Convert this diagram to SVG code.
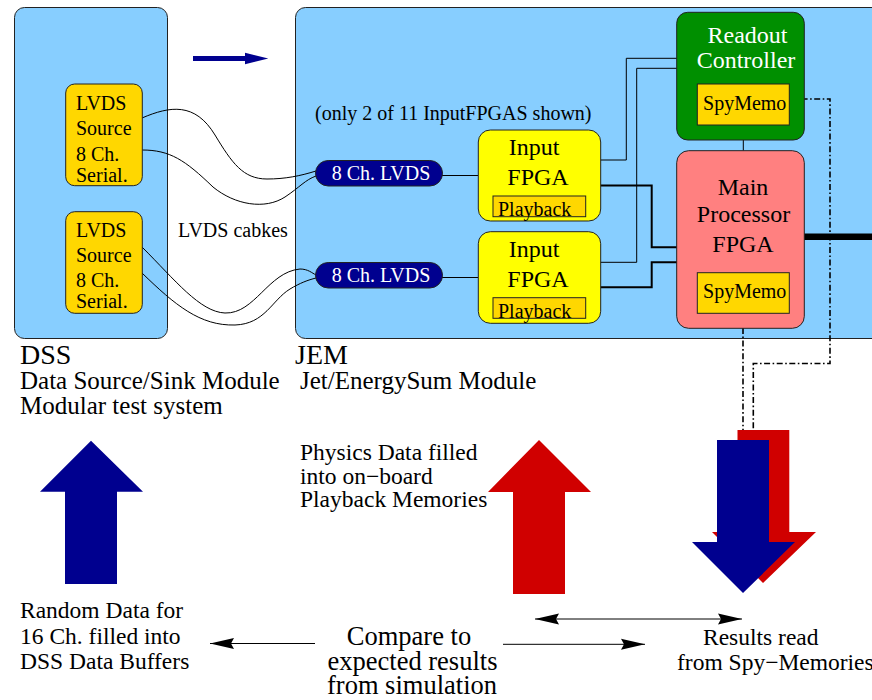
<svg xmlns="http://www.w3.org/2000/svg" width="872" height="700" viewBox="0 0 872 700">
<style>
text{font-family:"Liberation Serif","Times New Roman",serif;fill:#000}
.mod{fill:#87CEFF;stroke:#222;stroke-width:1}
.src{fill:#FFD700;stroke:#222;stroke-width:1}
.inp{fill:#FFFF00;stroke:#222;stroke-width:1}
.gold{fill:#FFD700;stroke:#222;stroke-width:1}
.pill{fill:#00008F;stroke:#222;stroke-width:1}
.w{fill:#fff}
.c{fill:none;stroke:#000;stroke-width:1}
.c2{fill:none;stroke:#000;stroke-width:2}
.dd{fill:none;stroke:#000;stroke-width:1.6;stroke-dasharray:6 2.5 1.6 2.5}
.t20{font-size:20px}
.t24{font-size:24px}
.t25{font-size:25px}
.t235{font-size:23.5px}
.t27{font-size:26.5px}
</style>
<defs>
<marker id="ah" markerWidth="26" markerHeight="12" refX="24" refY="6" orient="auto-start-reverse" markerUnits="userSpaceOnUse">
<path d="M0,0.5 L24,6 L0,11.5 L3,6 Z" fill="#000"/>
</marker>
</defs>

<g id="dss">
<rect class="mod" x="14.5" y="7.5" width="153" height="331" rx="10"/>
<text x="20" y="364" style="font-size:28px">DSS</text>
<text class="t25" x="20" y="389">Data Source/Sink Module</text>
<text class="t25" x="20" y="414">Modular test system</text>
</g>

<g id="jem">
<rect class="mod" x="295.5" y="7.5" width="600" height="331" rx="10"/>
<text x="295" y="364" style="font-size:28px">JEM</text>
<text class="t25" x="300" y="389">Jet/EnergySum Module</text>
<text class="t20" x="315" y="120">(only 2 of 11 InputFPGAS shown)</text>
</g>

<g id="flow-arrow">
<polygon points="193,56 245,56 245,52.7 268.3,58.5 245,64.3 245,61 193,61" fill="#00008F"/>
</g>

<g id="connectors">
<path class="c" d="M142,118 C170,106 195,102 215,135 C232,163 243,179 267,179 C285,179 300,176 316,171"/>
<path class="c" d="M142,150 C170,150 185,160 213,187 C235,205 265,210 285,197 C300,187 305,180 316,176"/>
<path class="c" d="M142,247 C175,280 200,312 225,313 C255,314 268,272 300,269 C308,269 312,273 316,275"/>
<path class="c" d="M142,273 C175,305 200,326 235,325 C265,324 272,300 290,289 C300,283 308,280 316,278"/>
<path class="c" d="M442,175.5 H478"/>
<path class="c" d="M442,277.5 H478"/>
<path class="c" d="M600,160 H626.3 V58.3 H677"/>
<path class="c" d="M677,68.3 H636.7 V262.3 H600"/>
<path class="c2" d="M600,185.5 H651.7 V247.3 H677"/>
<path class="c2" d="M600,287.3 H651.7 V262.3 H677"/>
<path class="c" d="M743.3,140 V150.7"/>
<path d="M804,236.7 H872" fill="none" stroke="#000" stroke-width="6.5"/>
<path class="dd" d="M789,99 H830 V363.5 H753.3 V440"/>
<path class="dd" d="M743,328 V440"/>
</g>

<g id="lvds-source-1">
<rect class="src" x="65.7" y="84" width="76.6" height="101.7" rx="9"/>
<text class="t20" x="76" y="110">LVDS</text>
<text class="t20" x="76" y="135">Source</text>
<text class="t20" x="76" y="161">8 Ch.</text>
<text class="t20" x="76" y="181.5">Serial.</text>
</g>
<g id="lvds-source-2">
<rect class="src" x="65.7" y="211.7" width="76.6" height="101.6" rx="9"/>
<text class="t20" x="76" y="237.3">LVDS</text>
<text class="t20" x="76" y="262.3">Source</text>
<text class="t20" x="76" y="287.3">8 Ch.</text>
<text class="t20" x="76" y="308.3">Serial.</text>
</g>
<g id="cables-label">
<text class="t20" x="178" y="236.7">LVDS cabkes</text>
</g>

<g id="lvds-rx-1">
<rect class="pill" x="315.5" y="160.5" width="127" height="25.5" rx="12.7"/>
<text class="t20 w" x="381" y="180" text-anchor="middle">8 Ch. LVDS</text>
</g>
<g id="lvds-rx-2">
<rect class="pill" x="315.5" y="262.5" width="127" height="25.5" rx="12.7"/>
<text class="t20 w" x="381" y="282" text-anchor="middle">8 Ch. LVDS</text>
</g>

<g id="input-fpga-1">
<rect class="inp" x="478.3" y="130" width="122.4" height="91" rx="12"/>
<text class="t24" x="534" y="155" text-anchor="middle">Input</text>
<text class="t24" x="538" y="185" text-anchor="middle">FPGA</text>
<rect class="gold" x="493" y="196" width="92.7" height="20.7"/>
<text class="t20" x="498" y="216">Playback</text>
</g>
<g id="input-fpga-2">
<rect class="inp" x="478.3" y="231.7" width="122.4" height="91.6" rx="12"/>
<text class="t24" x="534" y="256.7" text-anchor="middle">Input</text>
<text class="t24" x="538" y="286.7" text-anchor="middle">FPGA</text>
<rect class="gold" x="493" y="297.7" width="92.7" height="20.6"/>
<text class="t20" x="498" y="317.7">Playback</text>
</g>

<g id="readout-controller">
<rect x="676.7" y="12.3" width="127.6" height="127.7" rx="11" fill="#008F00" stroke="#222" stroke-width="1"/>
<text class="t24 w" x="747.5" y="42.7" text-anchor="middle">Readout</text>
<text class="t24 w" x="746" y="68.3" text-anchor="middle">Controller</text>
<rect class="gold" x="697.3" y="84" width="92" height="41"/>
<text class="t20" x="744.7" y="110" text-anchor="middle">SpyMemo</text>
</g>

<g id="main-processor">
<rect x="676.7" y="150.7" width="127.6" height="177.6" rx="12" fill="#FF8080" stroke="#222" stroke-width="1"/>
<text class="t24" x="743" y="195" text-anchor="middle">Main</text>
<text class="t24" x="743.5" y="221.7" text-anchor="middle">Processor</text>
<text class="t24" x="743" y="251.7" text-anchor="middle">FPGA</text>
<rect class="gold" x="697.3" y="272.7" width="92" height="40.6"/>
<text class="t20" x="744.7" y="297.7" text-anchor="middle">SpyMemo</text>
</g>

<g id="dss-fill-arrow">
<polygon points="65,584 65,491.7 40,491.7 91,440.7 143,491.7 117,491.7 117,584" fill="#00008F"/>
</g>
<g id="random-data-label">
<text class="t235" x="20" y="618">Random Data for</text>
<text class="t235" x="20" y="644">16 Ch. filled into</text>
<text class="t235" x="20" y="669">DSS Data Buffers</text>
</g>

<g id="jem-fill-arrow">
<polygon points="513,594 513,492 488,492 539,440 591,492 565,492 565,594" fill="#D00000"/>
</g>
<g id="physics-label">
<text class="t235" x="300" y="460">Physics Data filled</text>
<text class="t235" x="300" y="483.5">into on−board</text>
<text class="t235" x="300" y="507">Playback Memories</text>
</g>

<g id="readout-arrows">
<polygon points="737.5,430 789.3,430 789.3,532 816,532 763,583 712,532 737.5,532" fill="#D00000"/>
<polygon points="717,440 769,440 769,542 795,542 743,593 692,542 717,542" fill="#00008F"/>
</g>

<g id="compare-label">
<text class="t27" x="409" y="645" text-anchor="middle">Compare to</text>
<text class="t27" x="412.5" y="670" text-anchor="middle">expected results</text>
<text class="t27" x="412" y="694" text-anchor="middle">from simulation</text>
</g>
<g id="results-label">
<text class="t235" x="703" y="645">Results read</text>
<text class="t235" x="677" y="670">from Spy−Memories</text>
</g>

<g id="bottom-arrows">
<path class="c" d="M315,643.5 H210" marker-end="url(#ah)"/>
<path class="c" d="M503,644.3 H645" marker-end="url(#ah)"/>
<path class="c" d="M535,619 H742" marker-start="url(#ah)" marker-end="url(#ah)"/>
</g>
</svg>
